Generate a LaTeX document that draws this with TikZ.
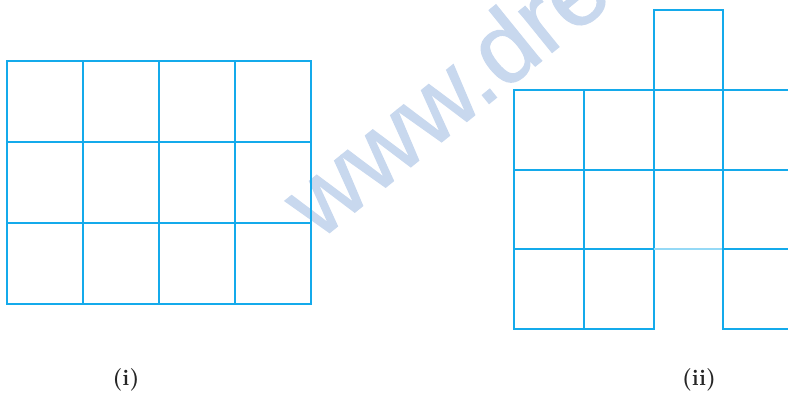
\documentclass[tikz,border=0pt]{standalone}
\usepackage{fontspec}
\newfontfamily\markfont[FakeBold=1.2]{Liberation Sans}
\usepackage{tikz}
\usetikzlibrary{positioning}

\definecolor{gridblue}{RGB}{20,170,235}
\definecolor{markblue}{RGB}{200,216,238}

\tikzset{
  gridline/.style={draw=gridblue, line width=1.8pt, line cap=rect},
  faintline/.style={draw=gridblue!45, line width=1.2pt},
  figlabel/.style={font=\fontsize{16}{18}\selectfont\bfseries, text=black!85}
}

\begin{document}
\begin{tikzpicture}[x=0.025cm, y=-0.025cm]
			\useasboundingbox (0, 0) rectangle (788, 396);
			\begin{scope}
			\clip (0, 0) rectangle (788, 396);
			% watermark
			\node at (318, 242) [anchor=base west, rotate=39, text=markblue, inner sep=0pt] (mark) {\markfont\fontsize{71}{75}\selectfont www.dre};
			% figure (i)
			\foreach \x in {7, 83, 159, 235, 311}
				\draw [gridline] (\x, 61) -- (\x, 304);
			\foreach \y in {61, 142, 223, 304}
				\draw [gridline] (7, \y) -- (311, \y);
			% figure (ii)
			\draw [gridline] (514, 90) -- (514, 329);
			\draw [gridline] (584, 90) -- (584, 329);
			\draw [gridline] (654, 10) -- (654, 329);
			\draw [gridline] (723, 10) -- (723, 329);
			\draw [gridline] (654, 10) -- (723, 10);
			\foreach \y in {90, 170}
				\draw [gridline] (514, \y) -- (800, \y);
			\draw [gridline] (514, 249) -- (654, 249);
			\draw [faintline] (654, 249) -- (723, 249);
			\draw [gridline] (723, 249) -- (800, 249);
			\draw [gridline] (514, 329) -- (654, 329);
			\draw [gridline] (723, 329) -- (800, 329);
			\end{scope}
			\node at (126, 380) [figlabel] (lab1) {(i)};
			\node at (699, 380) [figlabel] (lab2) {(ii)};
		\end{tikzpicture}
\end{document}
